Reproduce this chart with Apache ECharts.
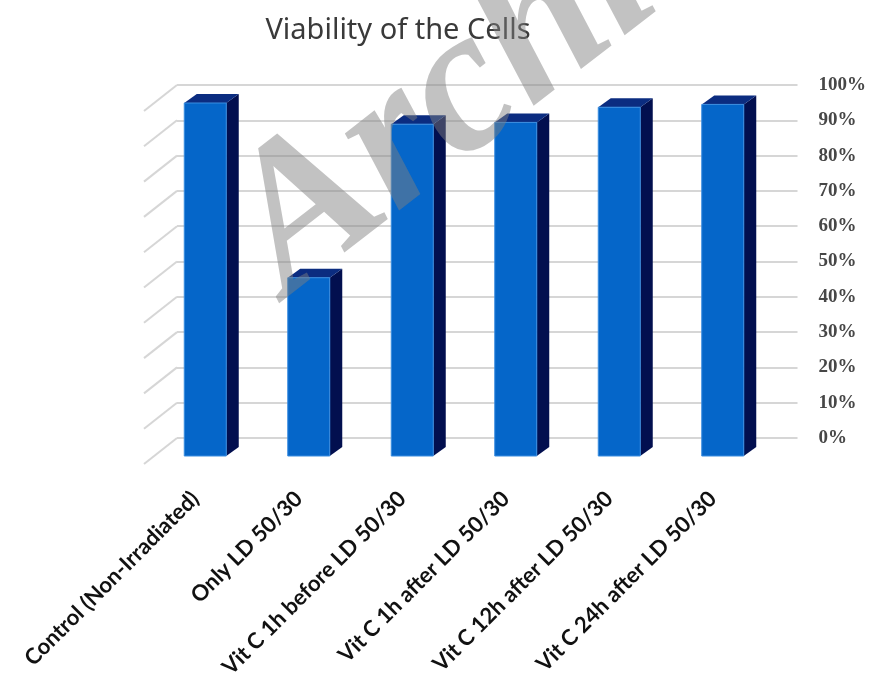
<!DOCTYPE html>
<html>
<head>
<meta charset="utf-8">
<script src="https://cdn.jsdelivr.net/npm/echarts@6/dist/echarts.min.js"></script>
<style>html,body{margin:0;padding:0;background:#fff}#chart{width:869px;height:681px}</style>
</head>
<body>
<div id="chart"></div>
<script>
const categories = ['Control (Non-Irradiated)', 'Only LD 50/30', 'Vit C 1h before LD 50/30', 'Vit C 1h after LD 50/30', 'Vit C 12h after LD 50/30', 'Vit C 24h after LD 50/30'];
const viability = [100, 50.5, 94, 94.5, 98.8, 99.6];
const yTicks = [0, 10, 20, 30, 40, 50, 60, 70, 80, 90, 100];

const chart = echarts.init(document.getElementById('chart'), null, {renderer: 'canvas'});

function renderBar(params, api) {
  const i = api.value(0), v = api.value(1);
  const base = api.coord([i, 0]);
  const top = api.coord([i, v]);
  const w = 42, dx = 12.5, dy = -9;
  const x0 = base[0] - w / 2, x1 = base[0] + w / 2, yb = base[1], yt = top[1];
  return {
    type: 'group',
    children: [
      {type: 'polygon', shape: {points: [[x1, yt], [x1 + dx, yt + dy], [x1 + dx, yb + dy], [x1, yb]]}, style: {fill: '#020f4f'}},
      {type: 'polygon', shape: {points: [[x0, yt], [x0 + dx, yt + dy], [x1 + dx, yt + dy], [x1, yt]]}, style: {fill: '#0b2c80'}},
      {type: 'rect', shape: {x: x0, y: yt, width: w, height: yb - yt}, style: {fill: '#0566c9', stroke: '#3a8de0', lineWidth: 1}}
    ]
  };
}

function renderWall(params, api) {
  const p = api.coord([0, api.value(1)]);
  const x = params.coordSys.x;
  return {
    type: 'line',
    shape: {x1: x, y1: p[1], x2: x - 33, y2: p[1] + 26},
    style: {stroke: '#d6d6d6', lineWidth: 2}
  };
}

chart.setOption({
  animation: false,
  backgroundColor: '#ffffff',
  title: {
    text: 'Viability of the Cells',
    left: 393,
    textAlign: 'center',
    top: 11,
    textStyle: {fontFamily: 'Noto Sans', fontWeight: 'normal', fontSize: 29, color: '#3a3a3a'}
  },
  grid: [
    {left: 177, right: 71, top: 85, height: 353},
    {left: 153.5, width: 621, top: 103, height: 353},
    {left: 143.5, width: 621, top: 103, height: 353}
  ],
  xAxis: [
    {type: 'category', gridIndex: 0, data: categories, axisLine: {show: false}, axisTick: {show: false}, axisLabel: {show: false}, splitLine: {show: false}},
    {type: 'category', gridIndex: 1, data: categories, axisLine: {show: false}, axisTick: {show: false}, axisLabel: {show: false}, splitLine: {show: false}},
    {type: 'category', gridIndex: 2, data: categories, axisLine: {show: false}, axisTick: {show: false}, splitLine: {show: false},
     axisLabel: {interval: 0, rotate: 45, margin: 53, fontFamily: 'Lato', fontWeight: 'bold', fontSize: 22, color: '#111111'}}
  ],
  yAxis: [
    {type: 'value', gridIndex: 0, position: 'right', min: 0, max: 100, interval: 10,
     axisLine: {show: false}, axisTick: {show: false},
     splitLine: {show: true, lineStyle: {color: '#d6d6d6', width: 2}},
     axisLabel: {margin: 21, formatter: '{value}%', fontFamily: 'Liberation Serif', fontWeight: 'bold', fontSize: 19, color: '#474747'}},
    {type: 'value', gridIndex: 1, min: 0, max: 100, show: false},
    {type: 'value', gridIndex: 2, min: 0, max: 100, show: false}
  ],
  series: [
    {type: 'custom', xAxisIndex: 0, yAxisIndex: 0, renderItem: renderWall, data: yTicks.map(t => [0, t]), silent: true},
    {type: 'custom', xAxisIndex: 1, yAxisIndex: 1, renderItem: renderBar, data: categories.map((c, i) => [i, viability[i]])}
  ],
  graphic: [
    {type: 'text', x: 318, y: 336, rotation: 0.66, z: 100, silent: true,
     style: {text: 'Archive of SID', font: 'italic bold 205px "Liberation Serif"', fill: 'rgba(128,128,128,0.48)', align: 'left', verticalAlign: 'bottom'}}
  ]
});
</script>
</body>
</html>
